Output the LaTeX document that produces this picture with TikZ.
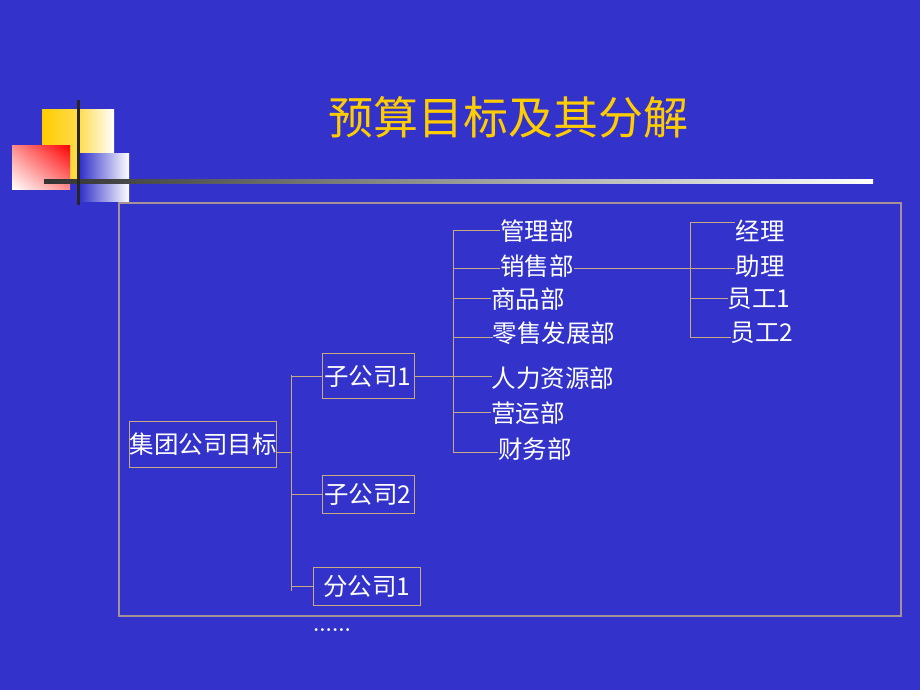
\documentclass[tikz,border=0pt]{standalone}
\usepackage{fontspec}
\newfontfamily\cjk{Noto Sans CJK SC}
\usepackage{tikz}
\usetikzlibrary{positioning,shadings}
\definecolor{slideblue}{RGB}{51,51,204}
\definecolor{framegray}{RGB}{165,145,150}
\definecolor{linetan}{RGB}{200,170,130}
\definecolor{titleyellow}{RGB}{255,204,0}
\definecolor{logored}{RGB}{255,0,0}

\begin{document}
\begin{tikzpicture}[x=1pt,y=-1pt]
\tikzstyle{box} = [draw=linetan, line width=1pt, inner sep=2pt, minimum height=40pt, text=white, font=\cjk\fontsize{24.5}{26}\selectfont]
\tikzstyle{dept} = [inner sep=0pt, text=white, font=\cjk\fontsize{24.5}{26}\selectfont]
\tikzstyle{link} = [draw=linetan, line width=0.9pt]

% Hintergrund
\fill[slideblue] (0,0) rectangle (920,690);
\useasboundingbox (0,0) rectangle (920,690);

% Logo
\shade[left color=titleyellow, right color=white, middle color=titleyellow!70] (42,110) rectangle (114,182);
\shade[left color=slideblue, right color=white] (80,153) rectangle (129,201);
\shade[lower left=white, upper right=logored, upper left=logored!45!white, lower right=logored!45!white] (12,145) rectangle (70,189);
\shade[left color=black!80, right color=white] (44,179) rectangle (873,183);
\draw[black!85, line width=3pt] (78,100) -- (78,205);

% Titolo
\node[text=titleyellow, font=\cjk\fontsize{45}{48}\selectfont] (title) at (508,117) {预算目标及其分解};

% Cornice
\draw[framegray, line width=1.6pt] (119,203) rectangle (901,616);

% Livello 1
\node[box, inner sep=0pt, minimum width=146pt, minimum height=46pt] (root) at (203,444) {集团公司目标};

% Livello 2
\node[box, minimum width=92pt, minimum height=45pt] (sub1) at (368,376) {子公司1};
\node[box, minimum width=92pt, minimum height=38pt] (sub2) at (368,494) {子公司2};
\node[box, minimum width=107pt, minimum height=38pt] (br1) at (367,586) {分公司1};
\node[text=white, font=\bfseries\fontsize{20}{22}\selectfont] (dots) at (332,630) {......};

\coordinate (rootbus) at (291,452);
\draw[link] (root.east |- rootbus) -- (rootbus);
\draw[link] (291,375) -- (291,591);
\foreach \n in {sub1,sub2,br1} {
  \draw[link] (291,0 |- \n.west) -- (\n.west);
}

% Reparti
\foreach \name/\txt/\x/\y in {mgmt/管理部/537/231, sales/销售部/537/266, goods/商品部/528/299,
    retail/零售发展部/554/333, hr/人力资源部/553/378, ops/营运部/528/413, fin/财务部/535/449} {
  \node[dept] (\name) at (\x,\y) {\txt};
}
\draw[link] (453,230) -- (453,452);
\foreach \name/\y in {mgmt/230, sales/268, goods/298, retail/337, ops/412, fin/452} {
  \draw[link] (453,\y) -- (\name.west |- 0,\y);
}
\draw[link] (sub1.east) -- (hr.west |- sub1.east);

% Personale
\foreach \name/\txt/\x/\y in {mgr/经理/760/231, asst/助理/760/266, emp1/员工1/759/299, emp2/员工2/762/333} {
  \node[dept] (\name) at (\x,\y) {\txt};
}
\draw[link] (690,222) -- (690,337);
\foreach \name/\y in {mgr/222, asst/268, emp1/298, emp2/337} {
  \draw[link] (690,\y) -- (\name.west |- 0,\y);
}
\draw[link] (sales.east |- 0,268) -- (690,268);

\end{tikzpicture}
\end{document}
